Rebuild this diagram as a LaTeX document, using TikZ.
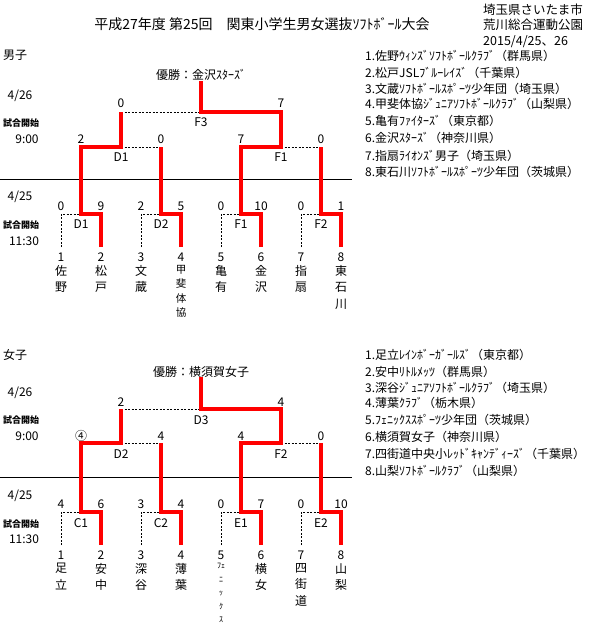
\documentclass[tikz,border=0pt]{standalone}
\usepackage{fontspec}
\setmainfont{Noto Sans CJK JP}
\usetikzlibrary{positioning}
\definecolor{winred}{RGB}{255,0,0}

\begin{document}
\begin{tikzpicture}[x=1pt,y=-1pt]
\tikzset{win/.style={draw=winred,line width=3.6pt},
  lose/.style={draw=black,line width=.7pt,dash pattern=on 2pt off 1.5pt},
  sep/.style={draw=black,line width=.9pt},
  lab/.style={font=\fontsize{12}{14}\selectfont,inner sep=0pt},
  leg/.style={lab,anchor=west},
  place/.style={leg,font=\fontsize{12.5}{14}\selectfont},
  kaishi/.style={font=\bfseries\fontsize{9}{10}\selectfont,inner sep=0pt},
  vname/.style={font=\fontsize{12}{16.5}\selectfont,align=center,inner sep=0pt,anchor=north},
  vsmall/.style={vname,font=\fontsize{10.5}{14.5}\selectfont},
  vtiny/.style={vname,font=\fontsize{8}{13.5}\selectfont}}
\useasboundingbox (0,0) rectangle (592,632);

% header
\node[lab,font=\fontsize{14}{16}\selectfont] (title) at (262,24) {平成27年度 第25回　関東小学生男女選抜ｿﾌﾄﾎﾞｰﾙ大会};
\node[place] (place1) at (483,10) {埼玉県さいたま市};
\node[place] (place2) at (483,25) {荒川総合運動公園};
\node[place] (date) at (483,42) {2015/4/25、26};

% boys
\begin{scope}[shift={(0,0)}]
  \node[lab] (mgrp) at (15,55) {男子};
  \node[lab] (mwin) at (201,75) {優勝：金沢ｽﾀｰｽﾞ};
  \node[lab] (mday2) at (20,96) {4/26};
  \node[kaishi] (mks2) at (21,123) {試合開始};
  \node[lab] (mtm2) at (27,139) {9:00};
  \node[lab] (mday1) at (20,197) {4/25};
  \node[kaishi] (mks1) at (21,225) {試合開始};
  \node[lab] (mtm1) at (24,241) {11:30};
  \coordinate (mlineL) at (0,179); \coordinate (mlineR) at (352,179);
  \draw[sep] (mlineL) -- (mlineR);
  \foreach \i/\x/\st/\nm in {1/61/vname/佐\\野,2/101/vname/松\\戸,3/141/vname/文\\蔵,4/181/vsmall/甲\\斐\\体\\協,
      5/221/vname/亀\\有,6/261/vname/金\\沢,7/301/vname/指\\扇,8/341/vname/東\\石\\川}{
    \coordinate (mleaf\i) at (\x,247);
    \node[lab] (mno\i) at (\x,257) {\i};
    \node[\st] (mnm\i) at (\x,265) {\nm};
  }
  \foreach \x/\s in {61/0,101/9,141/2,181/5,221/0,261/10,301/0,341/1}
    \node[lab] (msc\x) at (\x,206) {\s};
  \foreach \x/\m in {81/D1,161/D2,241/F1,321/F2}
    \node[lab] (mmatch\x) at (\x,224) {\m};
  \foreach \x/\s in {81/2,161/0,241/7,321/0}
    \node[lab] (msemisc\x) at (\x,139) {\s};
  \node[lab] (msemi121) at (121,157) {D1};
  \node[lab] (msemi281) at (281,157) {F1};
  \node[lab] (mfsc121) at (121,103) {0};
  \node[lab] (mfsc281) at (281,103) {7};
  \node[lab] (mfinal) at (201,122) {F3};
  \coordinate (ma1) at (81,214); \coordinate (ma2) at (161,214);
  \coordinate (ma3) at (241,214); \coordinate (ma4) at (321,214);
  \coordinate (mb1) at (121,147); \coordinate (mb2) at (281,147);
  \coordinate (mc) at (201,112); \coordinate (mtop) at (201,81);
  \draw[lose] (mleaf1) |- (ma1) (mleaf3) |- (ma2) (mleaf5) |- (ma3) (mleaf7) |- (ma4);
  \draw[lose] (mb1) -- (ma2 |- mb1) (mb2) -- (ma4 |- mb2) (mb1 |- mc) -- (mc);
  \draw[win] (mleaf2) |- (ma1) |- (mb1) -- (mb1 |- mc);
  \draw[win] (mleaf4) |- (ma2) -- (ma2 |- mb1);
  \draw[win] (mleaf6) |- (ma3) |- (mb2) |- (mc) -- (mtop);
  \draw[win] (mleaf8) |- (ma4) -- (ma4 |- mb2);
  \foreach \i/\y/\t in {1/56/1.佐野ｳｨﾝｽﾞｿﾌﾄﾎﾞｰﾙｸﾗﾌﾞ（群馬県）,2/73/2.松戸JSLﾌﾞﾙｰﾚｲｽﾞ（千葉県）,
      3/89/3.文蔵ｿﾌﾄﾎﾞｰﾙｽﾎﾟｰﾂ少年団（埼玉県）,4/104/4.甲斐体協ｼﾞｭﾆｱｿﾌﾄﾎﾞｰﾙｸﾗﾌﾞ（山梨県）,
      5/121/5.亀有ﾌｧｲﾀｰｽﾞ（東京都）,6/138/6.金沢ｽﾀｰｽﾞ（神奈川県）,
      7/156/7.指扇ﾗｲｵﾝｽﾞ男子（埼玉県）,8/172/8.東石川ｿﾌﾄﾎﾞｰﾙｽﾎﾟｰﾂ少年団（茨城県）}
    \node[leg] (mleg\i) at (365,\y) {\t};
\end{scope}

% girls
\begin{scope}[shift={(0,298)}]
  \node[lab] (fgrp) at (15,57) {女子};
  \node[lab] (fwin) at (201,74) {優勝：横須賀女子};
  \node[lab] (fday2) at (20,95) {4/26};
  \node[kaishi] (fks2) at (21,122) {試合開始};
  \node[lab] (ftm2) at (27,138) {9:00};
  \node[lab] (fday1) at (20,198) {4/25};
  \node[kaishi] (fks1) at (21,226) {試合開始};
  \node[lab] (ftm1) at (24,241) {11:30};
  \coordinate (flineL) at (0,179); \coordinate (flineR) at (352,179);
  \draw[sep] (flineL) -- (flineR);
  \foreach \i/\x/\st/\nm in {1/61/vname/足\\立,2/101/vname/安\\中,3/141/vname/深\\谷,4/181/vname/薄\\葉,
      5/221/vtiny/ﾌｪ\\ﾆ\\ｯ\\ｸ\\ｽ,6/261/vname/横\\女,7/301/vname/四\\街\\道,8/341/vname/山\\梨}{
    \coordinate (fleaf\i) at (\x,247);
    \node[lab] (fno\i) at (\x,257) {\i};
    \node[\st] (fnm\i) at (\x,265) {\nm};
  }
  \foreach \x/\s in {61/4,101/6,141/3,181/4,221/0,261/7,301/0,341/10}
    \node[lab] (fsc\x) at (\x,206) {\s};
  \foreach \x/\m in {81/C1,161/C2,241/E1,321/E2}
    \node[lab] (fmatch\x) at (\x,225) {\m};
  \foreach \x/\s in {81/④,161/4,241/4,321/0}
    \node[lab] (fsemisc\x) at (\x,138) {\s};
  \node[lab] (fsemi121) at (121,156) {D2};
  \node[lab] (fsemi281) at (281,156) {F2};
  \node[lab] (ffsc121) at (121,104) {2};
  \node[lab] (ffsc281) at (281,104) {4};
  \node[lab] (ffinal) at (201,122) {D3};
  \coordinate (fa1) at (81,214); \coordinate (fa2) at (161,214);
  \coordinate (fa3) at (241,214); \coordinate (fa4) at (321,214);
  \coordinate (fb1) at (121,145); \coordinate (fb2) at (281,145);
  \coordinate (fc) at (201,111); \coordinate (ftop) at (201,79);
  \draw[lose] (fleaf1) |- (fa1) (fleaf3) |- (fa2) (fleaf5) |- (fa3) (fleaf7) |- (fa4);
  \draw[lose] (fb1) -- (fa2 |- fb1) (fb2) -- (fa4 |- fb2) (fb1 |- fc) -- (fc);
  \draw[win] (fleaf2) |- (fa1) |- (fb1) -- (fb1 |- fc);
  \draw[win] (fleaf4) |- (fa2) -- (fa2 |- fb1);
  \draw[win] (fleaf6) |- (fa3) |- (fb2) |- (fc) -- (ftop);
  \draw[win] (fleaf8) |- (fa4) -- (fa4 |- fb2);
  \foreach \i/\y/\t in {1/57/1.足立ﾚｲﾝﾎﾞｰｶﾞｰﾙｽﾞ（東京都）,2/74/2.安中ﾘﾄﾙﾒｯﾂ（群馬県）,
      3/90/3.深谷ｼﾞｭﾆｱｿﾌﾄﾎﾞｰﾙｸﾗﾌﾞ（埼玉県）,4/105/4.薄葉ｸﾗﾌﾞ（栃木県）,
      5/122/5.ﾌｪﾆｯｸｽｽﾎﾟｰﾂ少年団（茨城県）,6/139/6.横須賀女子（神奈川県）,
      7/156/7.四街道中央小ﾚｯﾄﾞｷｬﾝﾃﾞｨｰｽﾞ（千葉県）,8/173/8.山梨ｿﾌﾄﾎﾞｰﾙｸﾗﾌﾞ（山梨県）}
    \node[leg] (fleg\i) at (365,\y) {\t};
\end{scope}
\end{tikzpicture}
\end{document}
